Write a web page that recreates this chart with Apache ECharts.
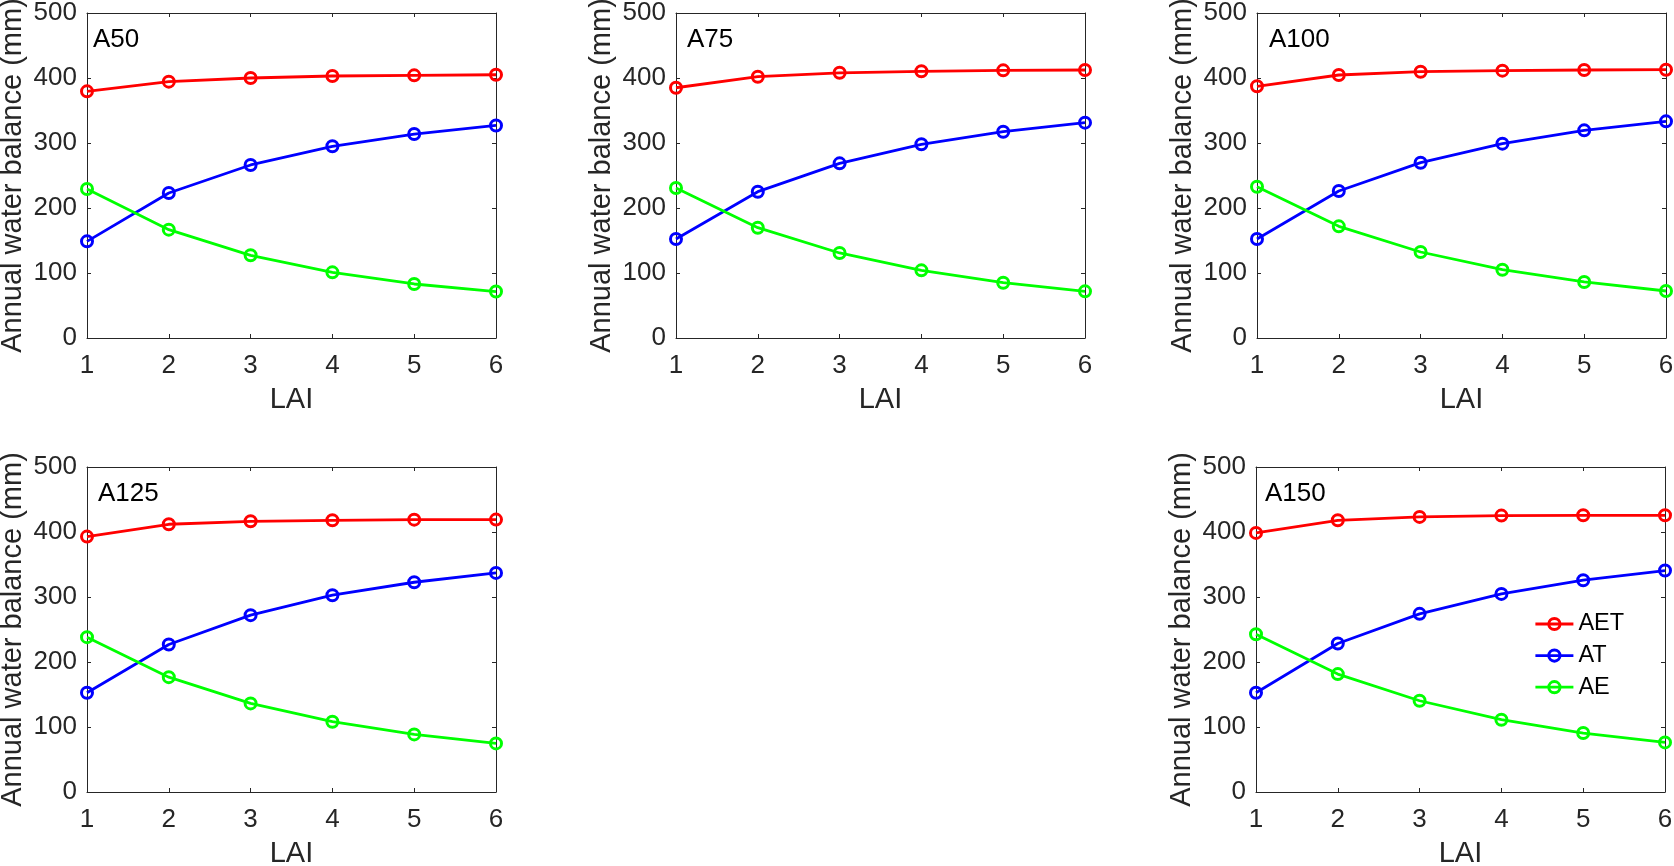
<!DOCTYPE html>
<html>
<head>
<meta charset="utf-8">
<script src="https://cdn.jsdelivr.net/npm/echarts@6/dist/echarts.min.js"></script>
<style>
html,body{margin:0;padding:0;background:#fff;}
#c{width:1674px;height:866px;}
</style>
</head>
<body>
<div id="c"></div>
<script>
// ---- data ----
const LAI = [1, 2, 3, 4, 5, 6];
const PANEL_NAMES = ['A50', 'A75', 'A100', 'A125', 'A150'];
const SERIES_NAMES = ['AET', 'AT', 'AE'];
const Y_TICKS = [0, 100, 200, 300, 400, 500];

const AET_A50  = [379.5, 394.4, 400.0, 403.1, 404.1, 405.0];
const AT_A50   = [148.7, 223.1, 266.2, 294.9, 313.8, 327.0];
const AE_A50   = [229.2, 166.7, 127.2, 101.0, 83.1, 71.5];

const AET_A75  = [385.0, 402.0, 408.0, 410.3, 411.8, 412.3];
const AT_A75   = [152.3, 225.1, 268.7, 298.0, 317.4, 331.3];
const AE_A75   = [230.8, 169.7, 130.8, 104.1, 85.1, 71.8];

const AET_A100 = [387.2, 404.6, 409.7, 411.3, 412.3, 412.8];
const AT_A100  = [152.3, 226.2, 269.7, 299.0, 319.5, 333.3];
const AE_A100  = [232.8, 171.8, 132.3, 105.1, 86.2, 72.3];

const AET_A125 = [392.9, 411.9, 416.5, 418.0, 419.0, 419.1];
const AT_A125  = [152.7, 227.0, 272.1, 302.8, 322.7, 337.1];
const AE_A125  = [238.2, 176.7, 136.3, 108.1, 88.6, 74.8];

const AET_A150 = [398.6, 418.0, 423.2, 425.2, 425.7, 425.7];
const AT_A150  = [152.7, 228.5, 274.1, 304.8, 325.8, 340.7];
const AE_A150  = [242.8, 181.4, 140.4, 111.2, 90.7, 76.3];

const PANEL_DATA = [
  [AET_A50, AT_A50, AE_A50],
  [AET_A75, AT_A75, AE_A75],
  [AET_A100, AT_A100, AE_A100],
  [AET_A125, AT_A125, AE_A125],
  [AET_A150, AT_A150, AE_A150]
];

// ---- layout / style ----
const FONT = "'Liberation Sans', Arial, sans-serif";
const AXC = '#262626';
const COLORS = ['#ff0000', '#0000ff', '#00ff00'];
const GRIDS = [
  {left: 87,   top: 13,  width: 409, height: 325, tx: 6},
  {left: 676,  top: 13,  width: 409, height: 325, tx: 11},
  {left: 1257, top: 13,  width: 409, height: 325, tx: 12},
  {left: 87,   top: 467, width: 409, height: 325, tx: 11},
  {left: 1256, top: 467, width: 409, height: 325, tx: 9}
];

const grid = [], xAxis = [], yAxis = [], series = [], title = [];
GRIDS.forEach((g, i) => {
  grid.push({left: g.left, top: g.top, width: g.width, height: g.height,
             containLabel: false, outerBoundsMode: 'none'});
  const tick = {show: true, inside: true, length: 4, lineStyle: {color: AXC, width: 1}};
  const line = {show: true, onZero: false, lineStyle: {color: AXC, width: 1}};
  xAxis.push({
    type: 'value', gridIndex: i, position: 'bottom', min: LAI[0], max: LAI[LAI.length - 1], interval: 1,
    axisLine: line, axisTick: tick, splitLine: {show: false},
    axisLabel: {color: AXC, fontSize: 26, fontFamily: FONT, margin: 15},
    name: 'LAI', nameLocation: 'middle', nameGap: 47,
    nameTextStyle: {color: AXC, fontSize: 29, fontFamily: FONT}
  });
  xAxis.push({
    type: 'value', gridIndex: i, position: 'top', min: LAI[0], max: LAI[LAI.length - 1], interval: 1,
    axisLine: line, axisTick: tick, splitLine: {show: false}, axisLabel: {show: false}
  });
  yAxis.push({
    type: 'value', gridIndex: i, position: 'left', min: Y_TICKS[0], max: Y_TICKS[Y_TICKS.length - 1], interval: 100,
    axisLine: line, axisTick: tick, splitLine: {show: false},
    axisLabel: {color: AXC, fontSize: 26, fontFamily: FONT, margin: 10},
    name: 'Annual water balance (mm)', nameLocation: 'middle', nameGap: 60,
    nameTextStyle: {color: AXC, fontSize: 29, fontFamily: FONT}
  });
  yAxis.push({
    type: 'value', gridIndex: i, position: 'right', min: Y_TICKS[0], max: Y_TICKS[Y_TICKS.length - 1], interval: 100,
    axisLine: line, axisTick: tick, splitLine: {show: false}, axisLabel: {show: false}
  });
  title.push({
    text: PANEL_NAMES[i], left: g.left + g.tx, top: g.top + 14, padding: 0,
    textStyle: {color: '#000', fontSize: 26, fontWeight: 'normal', fontFamily: FONT, lineHeight: 26}
  });
  PANEL_DATA[i].forEach((vals, k) => {
    series.push({
      name: SERIES_NAMES[k], type: 'line', xAxisIndex: 2 * i, yAxisIndex: 2 * i,
      data: LAI.map((x, j) => [x, vals[j]]),
      symbol: 'circle', symbolSize: 11, showAllSymbol: true,
      lineStyle: {color: COLORS[k], width: 2.8},
      itemStyle: {color: 'rgba(0,0,0,0)', borderColor: COLORS[k], borderWidth: 3},
      emphasis: {disabled: true}, animation: false, clip: false
    });
  });
});

const chart = echarts.init(document.getElementById('c'), null, {renderer: 'canvas'});
chart.setOption({
  backgroundColor: '#fff',
  animation: false,
  title: title,
  grid: grid,
  xAxis: xAxis,
  yAxis: yAxis,
  legend: {
    data: SERIES_NAMES, orient: 'vertical', left: 1534, top: 611, padding: 0,
    itemWidth: 38, itemHeight: 14, itemGap: 5.6, selectedMode: false,
    lineStyle: {width: 2.8},
    itemStyle: {borderWidth: 3},
    textStyle: {color: '#000', fontSize: 23.5, fontFamily: FONT, lineHeight: 26}
  },
  series: series
});
</script>
</body>
</html>
